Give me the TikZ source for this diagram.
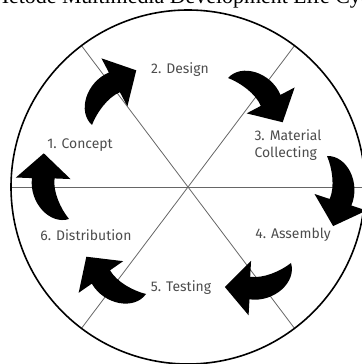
\documentclass[tikz,border=0pt]{standalone}
\usepackage{fontspec}
\setmainfont{Liberation Serif}
\newfontfamily\labelfont{Fira Sans}

\tikzset{
  steplabel/.style={font=\labelfont\fontsize{14}{17}\selectfont, text=black!70, inner sep=0pt},
  divider/.style={draw=black!60, line width=0.8bp},
  bendarrow/.pic={
    \fill[black] (0,0) .. controls (1,19) and (28,30) .. (49,19)
      -- (55,33) -- (67,0) -- (35,-15) -- (41,-1)
      .. controls (30,5) and (12,4) .. (0,0) -- cycle;
  }
}

\begin{document}
\begin{tikzpicture}[x=1bp, y=1bp]
  \useasboundingbox (0,0) rectangle (362,364);

  % Title (cut off at the top)
  \node[anchor=base, font=\fontsize{22}{26}\selectfont] (title) at (188,361) {Metode Multimedia Development Life Cycle};

  % Circle and dividers
  \coordinate (o) at (188,177);
  \foreach \a in {0,53,127,180,233,307}
    \draw[divider] (o) -- ++(\a:177);
  \draw[line width=1.6bp] (o) circle (177);

  % Phases
  \node[steplabel] (concept) at (80,219) {1. Concept};
  \node[steplabel] (design) at (180,294) {2. Design};
  \node[steplabel, align=left] (material) at (288,219) {3. Material\\Collecting};
  \node[steplabel] (assembly) at (293,129) {4. Assembly};
  \node[steplabel] (testing) at (181,76) {5. Testing};
  \node[steplabel] (distribution) at (86,129) {6. Distribution};

  % Curved arrows
  \pic[rotate=51, scale=1.05] at (92,239) {bendarrow};
  \pic[rotate=-39, scale=1.05] at (228,286) {bendarrow};
  \pic[rotate=-85, scale=1.05] at (327,208) {bendarrow};
  \pic[rotate=200, scale=1.05] at (291,101) {bendarrow};
  \pic[rotate=148, scale=1.05] at (146,70) {bendarrow};
  \pic[rotate=111, scale=1.05] at (69,145) {bendarrow};
\end{tikzpicture}
\end{document}
